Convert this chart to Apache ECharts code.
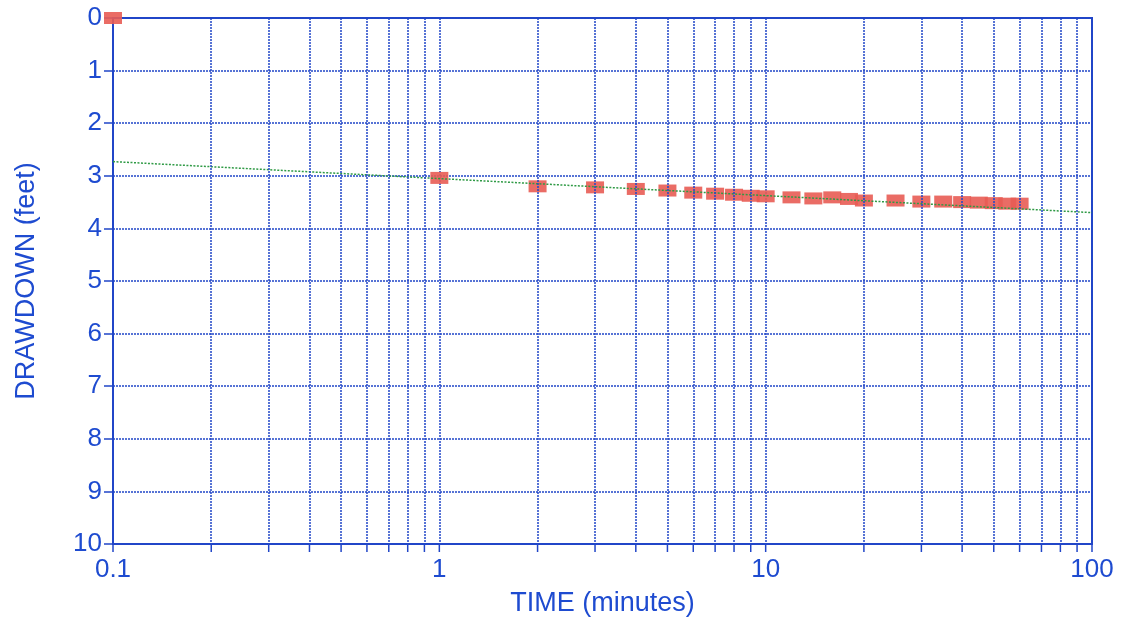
<!DOCTYPE html>
<html>
<head>
<meta charset="utf-8">
<script src="https://cdn.jsdelivr.net/npm/echarts@6/dist/echarts.min.js"></script>
<style>
html,body{margin:0;padding:0;background:#fff;}
#chart{width:1124px;height:622px;}
</style>
</head>
<body>
<div id="chart"></div>
<script>
// Observed data (time in minutes, drawdown in feet)
const timeMinutes = [0.1, 1, 2, 3, 4, 5, 6, 7, 8, 9, 10, 12, 14, 16, 18, 20, 25, 30, 35, 40, 45, 50, 55, 60];
const drawdownFeet = [0, 3.04, 3.20, 3.22, 3.25, 3.28, 3.32, 3.34, 3.36, 3.38, 3.39, 3.41, 3.43, 3.41, 3.44, 3.47, 3.47, 3.49, 3.49, 3.50, 3.51, 3.52, 3.53, 3.53];
// Straight-line fit (semi-log) end points
const fitTime = [0.1, 100];
const fitDrawdown = [2.73, 3.70];
// Axis settings
const xMajorValues = [0.1, 1, 10, 100];
const xMinorValues = [0.2,0.3,0.4,0.5,0.6,0.7,0.8,0.9, 2,3,4,5,6,7,8,9, 20,30,40,50,60,70,80,90];
const yMin = 0, yMax = 10, yInterval = 1;

const BLUE = '#2146c8';
const TEXT = '#1e4bd0';
const FONT = '"Liberation Sans", Arial, sans-serif';

const chart = echarts.init(document.getElementById('chart'), null, {renderer: 'canvas'});

const minorGrid = xMinorValues.map(v => ({xAxis: v}));
const tickValues = xMajorValues.concat(xMinorValues);

chart.setOption({
  animation: false,
  backgroundColor: '#fff',
  grid: {left: 113, right: 32, top: 18, bottom: 77, show: true, borderColor: BLUE, borderWidth: 2, backgroundColor: 'transparent'},
  xAxis: {
    type: 'log', logBase: 10, min: 0.1, max: 100,
    name: 'TIME (minutes)', nameLocation: 'middle', nameGap: 46,
    nameTextStyle: {color: TEXT, fontSize: 27, fontFamily: FONT},
    axisLine: {show: true, onZero: false, lineStyle: {color: BLUE, width: 2}},
    axisTick: {show: false},
    axisLabel: {color: TEXT, fontSize: 26, fontFamily: FONT, margin: 13,
      formatter: v => String(+Number(v).toPrecision(3))},
    splitLine: {show: true, lineStyle: {color: BLUE, width: 1.5, type: [2, 1]}}
  },
  yAxis: {
    type: 'value', inverse: true, min: yMin, max: yMax, interval: yInterval,
    name: 'DRAWDOWN (feet)', nameLocation: 'middle', nameGap: 73,
    nameTextStyle: {color: TEXT, fontSize: 27, fontFamily: FONT},
    axisLine: {show: true, onZero: false, lineStyle: {color: BLUE, width: 2}},
    axisTick: {show: true, length: 9, lineStyle: {color: BLUE, width: 1.5}},
    axisLabel: {color: TEXT, fontSize: 26, fontFamily: FONT, margin: 11},
    splitLine: {show: true, lineStyle: {color: BLUE, width: 1.5, type: [2, 1]}}
  },
  series: [
    {
      type: 'line', data: [], silent: true,
      markLine: {
        silent: true, symbol: ['none', 'none'], label: {show: false},
        lineStyle: {color: BLUE, width: 1.5, type: [2, 1]},
        data: minorGrid
      }
    },
    {
      // tick marks below the x axis (major and minor)
      type: 'custom', silent: true, clip: false,
      data: tickValues.map(v => [v, yMax]),
      renderItem: (params, api) => {
        const p = api.coord([api.value(0), api.value(1)]);
        return {type: 'line', shape: {x1: p[0], y1: p[1], x2: p[0], y2: p[1] + 8},
          style: {stroke: BLUE, lineWidth: 1.5}};
      }
    },
    {
      type: 'scatter', clip: false, symbol: 'rect', symbolSize: [18, 12],
      itemStyle: {color: '#e85c54', opacity: 0.9},
      data: timeMinutes.map((t, i) => [t, drawdownFeet[i]]), z: 3
    },
    {
      type: 'line', symbol: 'none', clip: false,
      lineStyle: {color: '#2f9a45', width: 1.5, type: [2, 1.5]},
      data: fitTime.map((t, i) => [t, fitDrawdown[i]]), z: 4
    }
  ]
});
</script>
</body>
</html>
